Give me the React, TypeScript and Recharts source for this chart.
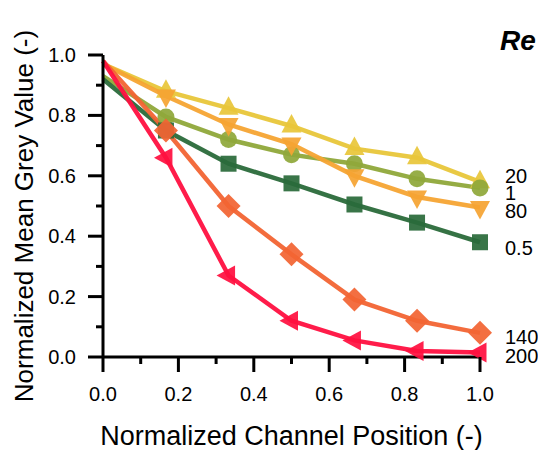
import React from 'react';
import { LineChart, Line, XAxis, YAxis, LabelList } from 'recharts';

const positions = [0, 0.167, 0.333, 0.5, 0.667, 0.833, 1];
const re20 = [0.97, 0.88, 0.824, 0.765, 0.69, 0.66, 0.58];
const re1 = [0.93, 0.795, 0.72, 0.67, 0.64, 0.59, 0.56];
const re80 = [0.97, 0.864, 0.77, 0.705, 0.6, 0.53, 0.495];
const re05 = [0.92, 0.75, 0.64, 0.575, 0.505, 0.445, 0.38];
const re140 = [0.98, 0.75, 0.5, 0.34, 0.19, 0.12, 0.08];
const re200 = [0.98, 0.66, 0.27, 0.12, 0.055, 0.02, 0.015];
const ticks = [0, 0.1, 0.2, 0.3, 0.4, 0.5, 0.6, 0.7, 0.8, 0.9, 1.0];
const majorTicks = [0, 0.2, 0.4, 0.6, 0.8, 1.0];

const data = positions.map((x, i) => ({
  x,
  re20: re20[i],
  re1: re1[i],
  re80: re80[i],
  re05: re05[i],
  re140: re140[i],
  re200: re200[i],
}));

const FONT = '"Liberation Sans", Arial, sans-serif';

type SeriesDef = { key: string; name: string; color: string; shape: string; dy: number };
const series: SeriesDef[] = [
  { key: 're20', name: '20', color: '#E8C63A', shape: 'up', dy: -6 },
  { key: 're1', name: '1', color: '#8FA83A', shape: 'circle', dy: 5 },
  { key: 're05', name: '0.5', color: '#2A6A3A', shape: 'square', dy: 6 },
  { key: 're80', name: '80', color: '#F5A433', shape: 'down', dy: 3 },
  { key: 're140', name: '140', color: '#F26433', shape: 'diamond', dy: 4 },
  { key: 're200', name: '200', color: '#FF1040', shape: 'left', dy: 4 },
];

const isMajor = (v: number) => majorTicks.some((m) => Math.abs(m - v) < 1e-6);

const YTick = (props: any) => {
  const { x, y, payload } = props;
  const major = isMajor(payload.value);
  return (
    <g>
      <line x1={x - (major ? 15 : 7)} x2={x} y1={y} y2={y} stroke="#000" strokeWidth={3} />
      {major && (
        <text x={x - 27} y={y} dy={7} textAnchor="end" fontSize={20} fontFamily={FONT} fill="#000">
          {payload.value.toFixed(1)}
        </text>
      )}
    </g>
  );
};

const XTick = (props: any) => {
  const { x, y, payload } = props;
  const major = isMajor(payload.value);
  return (
    <g>
      <line x1={x} x2={x} y1={y} y2={y + (major ? 15 : 7)} stroke="#000" strokeWidth={3} />
      {major && (
        <text x={x} y={y + 44} textAnchor="middle" fontSize={20} fontFamily={FONT} fill="#000">
          {payload.value.toFixed(1)}
        </text>
      )}
    </g>
  );
};

const makeDot = (shape: string, color: string) => (props: any) => {
  const { cx, cy, index } = props;
  const k = `dot-${shape}-${index}`;
  if (index === 0 || cx == null || cy == null) return <g key={k} />;
  const op = 0.93;
  switch (shape) {
    case 'up':
      return <polygon key={k} points={`${cx},${cy - 12} ${cx + 10},${cy + 6.5} ${cx - 10},${cy + 6.5}`} fill={color} opacity={op} />;
    case 'down':
      return <polygon key={k} points={`${cx},${cy + 12} ${cx + 10},${cy - 6.5} ${cx - 10},${cy - 6.5}`} fill={color} opacity={op} />;
    case 'left':
      return <polygon key={k} points={`${cx - 12},${cy} ${cx + 6.5},${cy - 10} ${cx + 6.5},${cy + 10}`} fill={color} opacity={op} />;
    case 'circle':
      return <circle key={k} cx={cx} cy={cy} r={8.5} fill={color} opacity={op} />;
    case 'square':
      return <rect key={k} x={cx - 8} y={cy - 8} width={16} height={16} fill={color} opacity={op} />;
    case 'diamond':
      return <polygon key={k} points={`${cx},${cy - 12} ${cx + 12},${cy} ${cx},${cy + 12} ${cx - 12},${cy}`} fill={color} opacity={op} />;
    default:
      return <g key={k} />;
  }
};

const makeEndLabel = (name: string, dy: number) => (props: any) => {
  const { x, y, index } = props;
  if (index !== positions.length - 1) return null;
  return (
    <text x={x + 25} y={y + dy} dy={7} textAnchor="start" fontSize={20} fontFamily={FONT} fill="#000">
      {name}
    </text>
  );
};

export default function App() {
  return (
    <div style={{ position: 'absolute', left: 0, top: 0, width: 538, height: 450, background: '#fff' }}>
      <LineChart width={538} height={450} data={data} margin={{ top: 55, right: 58, left: 0, bottom: 0 }}>
        <XAxis
          dataKey="x"
          type="number"
          domain={[0, 1]}
          ticks={ticks}
          interval={0}
          height={93}
          tickSize={0}
          tickMargin={0}
          tickLine={false}
          axisLine={{ stroke: '#000', strokeWidth: 3 }}
          tick={<XTick />}
          label={{
            content: (p: any) => {
              const vb = p.viewBox || {};
              return (
                <text x={(vb.x ?? 103) + (vb.width ?? 377) / 2} y={445} textAnchor="middle" fontSize={27} fontFamily={FONT} fill="#000">
                  Normalized Channel Position (-)
                </text>
              );
            },
          }}
        />
        <YAxis
          type="number"
          domain={[0, 1]}
          ticks={ticks}
          interval={0}
          width={103}
          tickSize={0}
          tickMargin={0}
          tickLine={false}
          axisLine={{ stroke: '#000', strokeWidth: 3 }}
          tick={<YTick />}
          label={{
            content: (p: any) => {
              const vb = p.viewBox || {};
              const cy = (vb.y ?? 55) + (vb.height ?? 302) / 2 + 10;
              return (
                <text
                  x={33}
                  y={cy}
                  transform={`rotate(-90, 33, ${cy})`}
                  textAnchor="middle"
                  fontSize={26}
                  fontFamily={FONT}
                  fill="#000"
                >
                  Normalized Mean Grey Value (-)
                </text>
              );
            },
          }}
        />
        {series.map((s) => (
          <Line
            key={s.key}
            dataKey={s.key}
            type="linear"
            stroke={s.color}
            strokeWidth={4.5}
            strokeOpacity={0.95}
            dot={makeDot(s.shape, s.color)}
            activeDot={false}
            isAnimationActive={false}
          >
            <LabelList dataKey={s.key} content={makeEndLabel(s.name, s.dy)} />
          </Line>
        ))}
        <text x={500} y={50} fontSize={28} fontWeight="bold" fontStyle="italic" fontFamily={FONT} fill="#000">
          Re
        </text>
      </LineChart>
    </div>
  );
}
